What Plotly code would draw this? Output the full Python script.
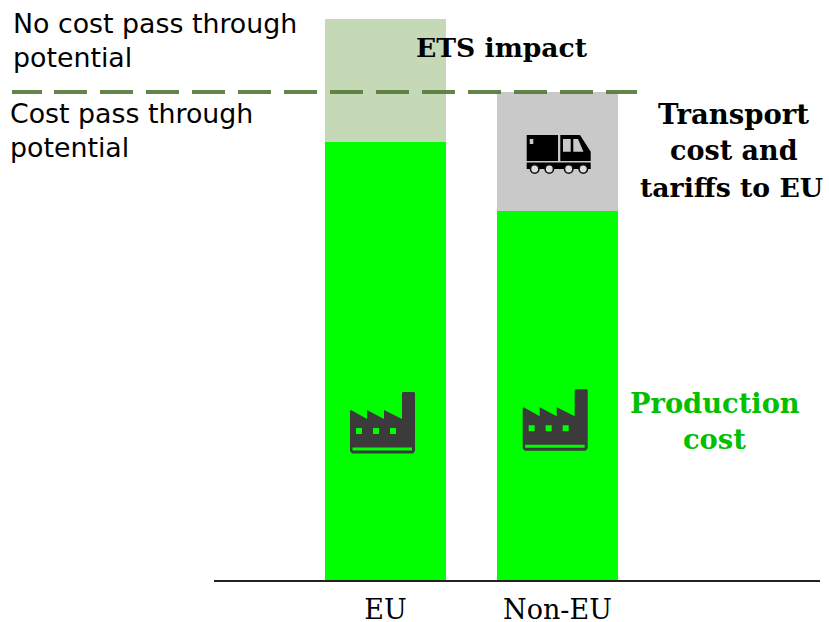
import plotly.graph_objects as go

categories = ["EU", "Non-EU"]
production_cost = [438, 369]
ets_impact = [123, 0]
transport_tariffs = [0, 119]
y_top = 580

W, H = 829, 622
L, R, T, B = 214, 820, 0, 580
GREEN, LIGHT, GREY = "#00ff00", "#c5d9b7", "#c9c9c9"
DARK, LINE = "#3b3b3b", "rgba(88,124,60,0.93)"
SANS, SERIF = "DejaVu Sans", "DejaVu Serif"
TEXT, LABEL_GREEN = "#000000", "#00c000"


def px(x):
    return (x - L) / (R - L)


def py(y):
    return (B - y) / (B - T)


def path(rings):
    out = []
    for ring in rings:
        out.append("M " + " L ".join(f"{px(x):.5f},{py(y):.5f}" for x, y in ring) + " Z")
    return " ".join(out)


def rect(x0, y0, x1, y1, reverse=False):
    pts = [(x0, y0), (x1, y0), (x1, y1), (x0, y1)]
    return pts[::-1] if reverse else pts


def factory(dx, dy):
    o = [(350, 411), (351, 410), (367, 419), (367, 410), (384, 419), (384, 410),
         (402, 419), (402, 393), (403, 392), (414, 392), (415, 393), (415, 451),
         (413, 453.5), (352, 453.5), (350, 451)]
    rings = [o,
             rect(356, 428, 362, 434, True), rect(373, 428, 379, 434, True),
             rect(390, 428, 396, 434, True), rect(352.5, 447.5, 412, 450.5, True)]
    return [[(x + dx, y + dy) for x, y in r] for r in rings]


shapes = []
for dx, dy in [(0, 0), (172.7, -2.7)]:
    shapes.append(dict(type="path", xref="paper", yref="paper", layer="above",
                       path=path(factory(dx, dy)), fillcolor=DARK, line=dict(width=0)))

# truck
truck = [rect(526.7, 135, 558, 161),
         [(560.3, 135), (580, 135), (590.7, 151.7), (590.7, 161), (560.3, 161)],
         rect(526.7, 162.5, 590.7, 169),
         rect(529.7, 139, 533.3, 144, True),
         rect(563, 139, 570.7, 151.7, True),
         [(573.3, 139), (578, 139), (583.5, 151.7), (573.3, 151.7)][::-1]]
shapes.append(dict(type="path", xref="paper", yref="paper", layer="above",
                   path=path(truck), fillcolor="#000000", line=dict(width=0)))
for cx in [534.7, 549.3, 568.7, 583.3]:
    shapes.append(dict(type="circle", xref="paper", yref="paper", layer="above",
                       x0=px(cx - 4.2), x1=px(cx + 4.2), y0=py(169 + 4.2), y1=py(169 - 4.2),
                       fillcolor="#dddddd", line=dict(color="#111111", width=1.6)))

# dashed divider
shapes.append(dict(type="line", xref="paper", yref="paper", layer="above",
                   x0=px(12), x1=px(42), y0=py(92), y1=py(92),
                   line=dict(color=LINE, width=4)))
shapes.append(dict(type="line", xref="paper", yref="paper", layer="above",
                   x0=px(54), x1=px(637), y0=py(92), y1=py(92),
                   line=dict(color=LINE, width=4, dash="33px,13px")))

# x, y centre, text, anchor, family, size, weight, colour
labels = [
    (11, 24, "No cost pass through", "left", SANS, 26.8, "normal", TEXT),
    (11, 58, "potential", "left", SANS, 26.8, "normal", TEXT),
    (8, 114, "Cost pass through", "left", SANS, 26.8, "normal", TEXT),
    (8, 148, "potential", "left", SANS, 26.8, "normal", TEXT),
    (501.5, 47.5, "ETS impact", "center", SERIF, 26.6, "bold", TEXT),
    (733, 114, "Transport", "center", SERIF, 27.5, "bold", TEXT),
    (734, 150.5, "cost and", "center", SERIF, 27, "bold", TEXT),
    (731.5, 187, "tariffs to EU", "center", SERIF, 26.7, "bold", TEXT),
    (714.5, 402.5, "Production", "center", SERIF, 27.3, "bold", LABEL_GREEN),
    (714.5, 438.5, "cost", "center", SERIF, 27.3, "bold", LABEL_GREEN),
]
annotations = [
    dict(xref="paper", yref="paper", x=px(x), y=py(y), text=t, showarrow=False,
         xanchor=a, yanchor="middle", align=a,
         font=dict(family=f, size=s, weight=w, color=c))
    for x, y, t, a, f, s, w, c in labels
]

fig = go.Figure()
fig.add_bar(x=categories, y=production_cost, marker=dict(color=GREEN, line=dict(width=0)))
fig.add_bar(x=categories, y=ets_impact, marker=dict(color=LIGHT, line=dict(width=0)))
fig.add_bar(x=categories, y=transport_tariffs, marker=dict(color=GREY, line=dict(width=0)))

fig.update_layout(
    width=W, height=H,
    barmode="stack", bargap=0.297, showlegend=False,
    margin=dict(l=L, r=W - R, t=T, b=H - B, autoexpand=False),
    paper_bgcolor="white", plot_bgcolor="white",
    xaxis=dict(type="category", categoryorder="array", categoryarray=categories,
               range=[-0.997, 2.526], showgrid=False, zeroline=False, ticks="",
               showline=True, linecolor="#222222", linewidth=2, ticklen=0,
               ticklabelstandoff=5,
               tickfont=dict(family=SERIF, size=27, color=TEXT)),
    yaxis=dict(range=[0, y_top], visible=False, showgrid=False, zeroline=False),
    shapes=shapes, annotations=annotations,
)
fig.write_html("out.html", config=dict(displayModeBar=False),
               post_script="document.body.style.margin='0';document.documentElement.style.overflow='hidden';")
